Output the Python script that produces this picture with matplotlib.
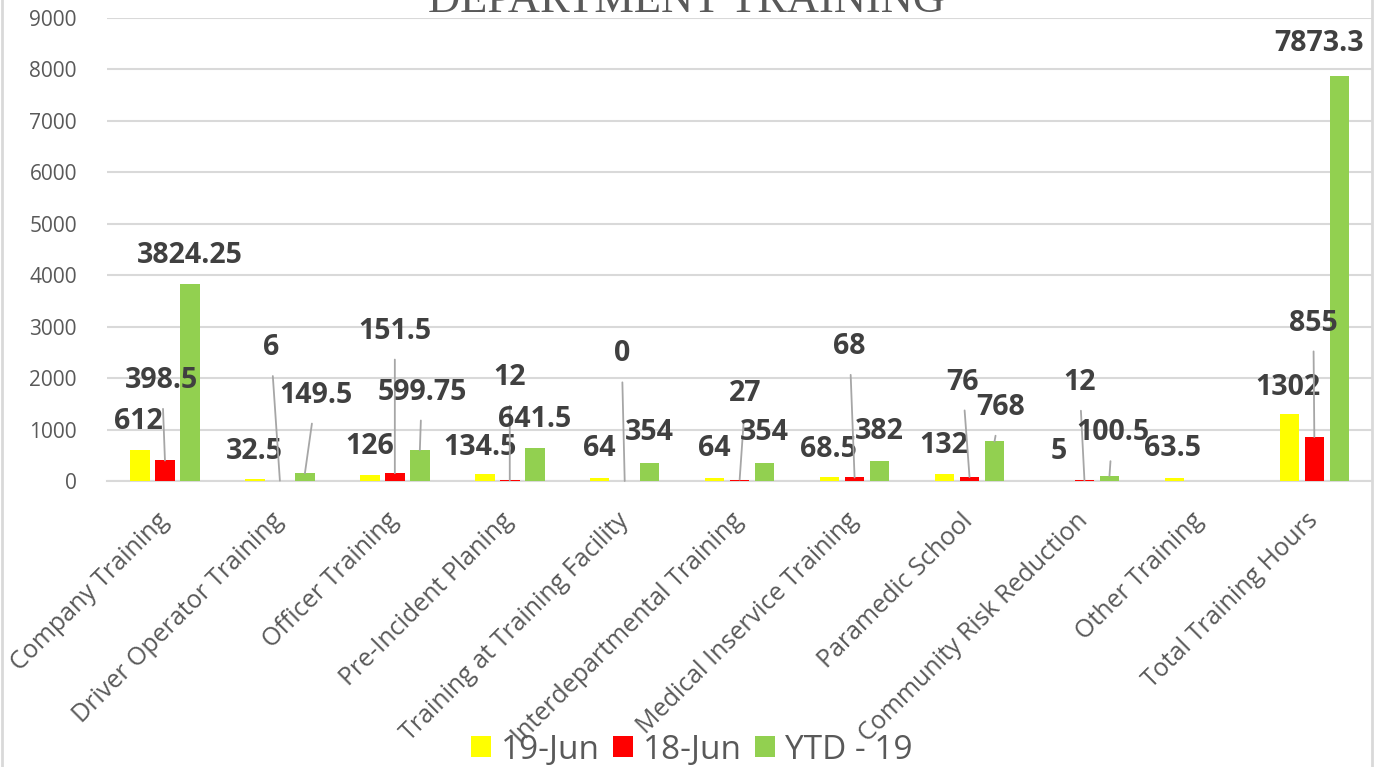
import numpy as np
import matplotlib
matplotlib.use('Agg')
import matplotlib.pyplot as plt

plt.rcParams['font.family'] = ['Open Sans', 'DejaVu Sans']

# data
categories = ['Company Training', 'Driver Operator Training', 'Officer Training',
              'Pre-Incident Planing', 'Training at Training Facility',
              'Interdepartmental Training', 'Medical Inservice Training',
              'Paramedic School', 'Community Risk Reduction', 'Other Training',
              'Total Training Hours']
series_names = ['19-Jun', '18-Jun', 'YTD - 19']
jun19 = [612, 32.5, 126, 134.5, 64, 64, 68.5, 132, 5, 63.5, 1302]
jun18 = [398.5, 6, 151.5, 12, 0, 27, 68, 76, 12, np.nan, 855]
ytd19 = [3824.25, 149.5, 599.75, 641.5, 354, 354, 382, 768, 100.5, np.nan, 7873.3]
label_text = {
    0: ['612', '32.5', '126', '134.5', '64', '64', '68.5', '132', '5', '63.5', '1302'],
    1: ['398.5', '6', '151.5', '12', '0', '27', '68', '76', '12', '', '855'],
    2: ['3824.25', '149.5', '599.75', '641.5', '354', '354', '382', '768', '100.5', '', '7873.3'],
}

# style / layout
colors = ['#ffff00', '#ff0000', '#92d050']
text_color = '#404040'
tick_color = '#595959'
grid_color = '#d9d9d9'
leader_color = '#a6a6a6'

# label offsets in pixels from the bar top (dx, dy), and whether a leader line is drawn
label_offsets = {
    0: [(-2, 28), (-1, 28), (0, 28), (-5, 27), (0, 29), (0, 29), (-1, 28), (-1, 29), (-1, 29), (-2, 29), (-1, 27)],
    1: [(-3, 80), (-9, 133), (0, 142), (0, 103), (-3, 127), (6, 86), (-5, 131), (-7, 95), (-5, 98), (0, 0), (-1, 114)],
    2: [(0, 29), (11, 78), (2, 58), (0, 28), (0, 30), (0, 30), (0, 30), (6, 34), (3, 43), (0, 0), (-20, 32)],
}
leaders = {
    0: [False] * 11,
    1: [True, True, True, True, True, True, True, True, True, False, True],
    2: [False, True, True, False, False, False, False, True, True, False, False],
}

fig = plt.figure(figsize=(13.78, 7.67), dpi=100)
ax = fig.add_axes([0.078, 0.3729, 0.9175, 0.6036])

x = np.arange(len(categories))
pitch = 0.2176
width = 0.17
all_values = [jun19, jun18, ytd19]

for s, vals in enumerate(all_values):
    xs = x + (s - 1) * pitch
    ax.bar(xs, vals, width, color=colors[s], label=series_names[s], zorder=3)
    for i, v in enumerate(vals):
        if np.isnan(v):
            continue
        dx, dy = label_offsets[s][i]
        kw = {}
        if leaders[s][i]:
            kw['arrowprops'] = dict(arrowstyle='-', color=leader_color, lw=1.3,
                                    shrinkA=8, shrinkB=0)
        ax.annotate(label_text[s][i], xy=(xs[i], v), xytext=(dx, dy),
                    textcoords='offset pixels', ha='center', va='center',
                    fontsize=20.5, fontweight='bold', color=text_color,
                    zorder=5, annotation_clip=False, **kw)

ax.set_xlim(-0.5, len(categories) - 0.5)
ax.set_ylim(0, 9000)
ax.set_yticks(np.arange(0, 9001, 1000))
ax.yaxis.grid(True, color=grid_color, lw=1.5, zorder=0)
ax.set_axisbelow(True)
for sp in ['top', 'right', 'left']:
    ax.spines[sp].set_visible(False)
ax.spines['bottom'].set_color(grid_color)
ax.spines['bottom'].set_linewidth(1.5)
ax.tick_params(axis='both', length=0, colors=tick_color)
ax.tick_params(axis='y', labelsize=15, pad=22)
ax.set_xticks(x)
ax.set_xticklabels(categories, rotation=45, ha='right', va='center',
                   rotation_mode='anchor', fontsize=18, color=tick_color)
ax.tick_params(axis='x', pad=26)

# title, partly cut off at the top as in the original
fig.text(0.498, 0.984, 'DEPARTMENT TRAINING', ha='center', va='baseline',
         fontsize=32, color=tick_color, family='Liberation Serif')

# chart frame
fig.add_artist(plt.Line2D([0.0015, 0.0015], [0, 1], color=grid_color, lw=2))
fig.add_artist(plt.Line2D([0.9953, 0.9953], [0, 1], color=grid_color, lw=2))

leg = fig.legend(loc='center', bbox_to_anchor=(0.502, 0.022), ncol=3, frameon=False,
                 fontsize=24, handlelength=0.6, handleheight=0.6,
                 handletextpad=0.3, columnspacing=0.4)
for t in leg.get_texts():
    t.set_color(tick_color)

fig.savefig('out.png', dpi=100)
